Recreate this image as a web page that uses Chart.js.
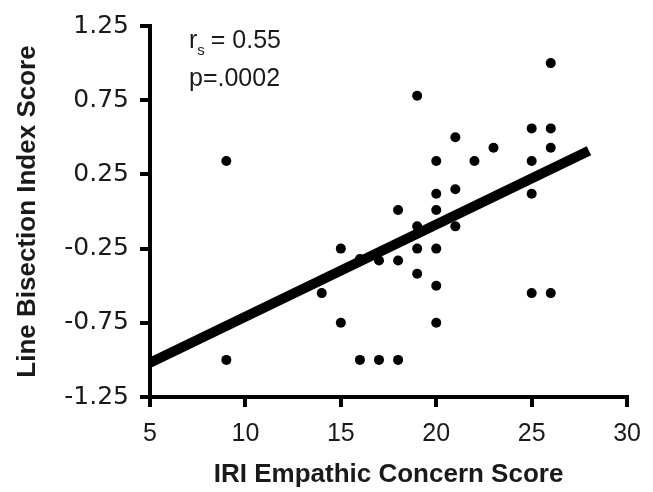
<!DOCTYPE html>
<html>
<head>
<meta charset="utf-8">
<script src="https://cdn.jsdelivr.net/npm/chart.js@4.4.1/dist/chart.umd.min.js"></script>
<style>
  html, body { margin: 0; padding: 0; background: #fff; }
</style>
</head>
<body>
<canvas id="grafico" width="653" height="492"></canvas>
<script>
// puntaje IRI (x) contra indice de biseccion (y), un valor por sujeto
const iriScore = [9, 9, 14, 15, 15, 16, 16, 17, 17, 18, 18, 18, 19, 19, 19, 19, 20, 20, 20, 20, 20, 20, 21, 21, 21, 22, 23, 25, 25, 25, 25, 26, 26, 26, 26];
const bisectionIndex = [0.34, -1.0, -0.55, -0.25, -0.75, -0.32, -1.0, -0.33, -1.0, 0.01, -0.33, -1.0, 0.78, -0.1, -0.25, -0.42, 0.34, 0.12, 0.01, -0.25, -0.5, -0.75, 0.5, 0.15, -0.1, 0.34, 0.43, 0.56, 0.34, 0.12, -0.55, 1.0, 0.56, 0.43, -0.55];

// recta de regresion (extremos)
const fitX = [5, 28];
const fitY = [-1.02, 0.41];

const xTicks = [5, 10, 15, 20, 25, 30];
const yTicks = [-1.25, -0.75, -0.25, 0.25, 0.75, 1.25];
const statsText = ['= 0.55', 'p=.0002'];

const negro = '#000';
const texto = '#1a1a1a';
const arial = '"Liberation Sans", Arial, sans-serif';

// texto de la correlacion arriba a la izquierda
const rotulo = {
    id: 'rotulo',
    afterDraw(chart) {
        const {ctx, chartArea} = chart;
        const x = chartArea.left + 39;
        const y = chartArea.top + 22;
        ctx.save();
        ctx.fillStyle = texto;
        ctx.textBaseline = 'alphabetic';
        ctx.textAlign = 'left';
        ctx.font = '25px ' + arial;
        ctx.fillText('r', x, y);
        let w = ctx.measureText('r').width;
        ctx.font = '15px ' + arial;
        ctx.fillText('s', x + w, y + 7);
        w += ctx.measureText('s').width + 6;
        ctx.font = '25px ' + arial;
        ctx.fillText(statsText[0], x + w, y);
        ctx.fillText(statsText[1], x, y + 38);
        ctx.restore();
    }
};

const ctx = document.getElementById('grafico').getContext('2d');

const grafico = new Chart(ctx, {
    type: 'scatter',
    data: {
        datasets: [
            {
                label: 'sujetos',
                data: iriScore.map((v, i) => ({x: v, y: bisectionIndex[i]})),
                backgroundColor: negro,
                borderWidth: 0,
                pointRadius: 5,
                order: 2
            },
            {
                label: 'ajuste',
                type: 'line',
                data: fitX.map((v, i) => ({x: v, y: fitY[i]})),
                borderColor: negro,
                borderWidth: 10,
                borderCapStyle: 'butt',
                pointRadius: 0,
                fill: false,
                order: 1
            }
        ]
    },
    options: {
        responsive: false,
        animation: false,
        layout: {
            padding: {left: 0, top: 21, right: 25, bottom: 0}
        },
        plugins: {
            legend: {display: false},
            tooltip: {enabled: false}
        },
        scales: {
            x: {
                type: 'linear',
                position: 'bottom',
                min: 5,
                max: 30,
                afterBuildTicks: s => { s.ticks = xTicks.map(v => ({value: v})); },
                afterFit: s => { s.height = 95; },
                border: {display: true, color: negro, width: 4},
                grid: {
                    display: true,
                    drawOnChartArea: false,
                    drawTicks: true,
                    tickLength: 10,
                    tickWidth: 4,
                    tickColor: negro,
                    color: negro,
                    lineWidth: 4
                },
                ticks: {
                    color: texto,
                    padding: 12,
                    font: {family: arial, size: 25}
                },
                title: {
                    display: true,
                    text: 'IRI Empathic Concern Score',
                    color: texto,
                    padding: {top: 0, bottom: 2},
                    font: {family: arial, size: 26, weight: 'bold'}
                }
            },
            y: {
                type: 'linear',
                min: -1.25,
                max: 1.25,
                afterBuildTicks: s => { s.ticks = yTicks.map(v => ({value: v})); },
                afterFit: s => { s.width = 150; },
                border: {display: true, color: negro, width: 4},
                grid: {
                    display: true,
                    drawOnChartArea: false,
                    drawTicks: true,
                    tickLength: 10,
                    tickWidth: 4,
                    tickColor: negro,
                    color: negro,
                    lineWidth: 4
                },
                ticks: {
                    color: texto,
                    padding: 11,
                    font: {family: '"DejaVu Sans", Verdana, sans-serif', size: 25},
                    callback: v => v.toFixed(2)
                },
                title: {
                    display: true,
                    text: 'Line Bisection Index Score',
                    color: texto,
                    padding: {top: 12, bottom: 0},
                    font: {family: arial, size: 26, weight: 'bold'}
                }
            }
        }
    },
    plugins: [rotulo]
});
</script>
</body>
</html>
